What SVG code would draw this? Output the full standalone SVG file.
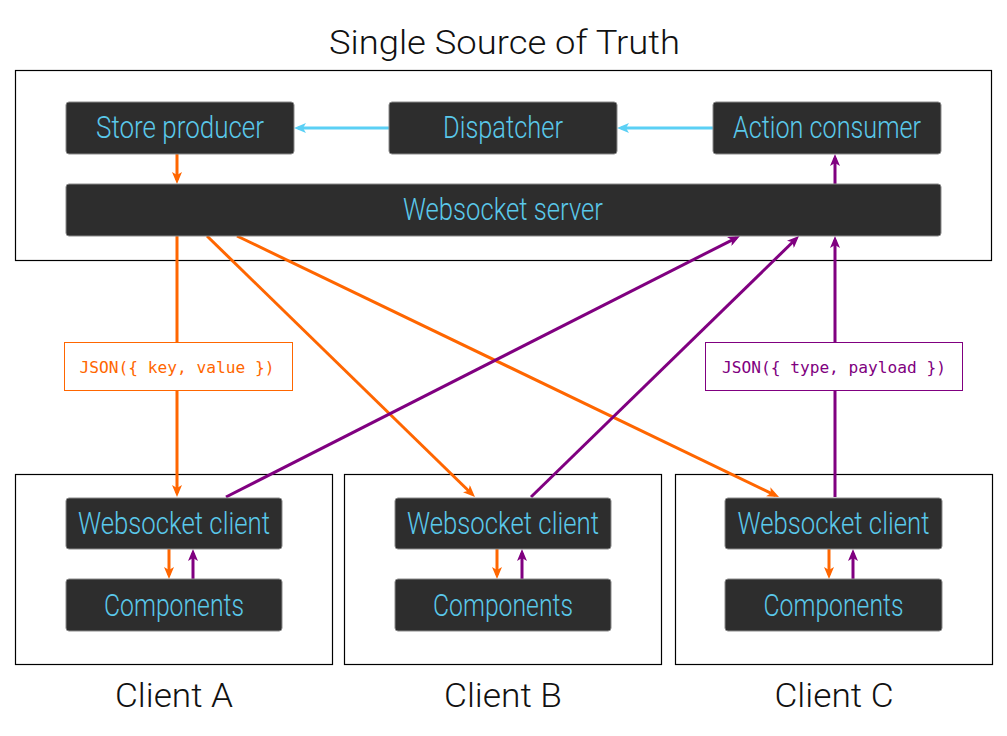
<svg xmlns="http://www.w3.org/2000/svg" width="1007" height="736" viewBox="0 0 1007 736">
<style>
.frame{fill:#fff;stroke:#000;stroke-width:1.2}
.node rect{fill:#2d2d2d;stroke:#8a8a8a;stroke-width:1}
.node text{font-family:Roboto,"Liberation Sans",sans-serif;font-weight:300;font-size:31px;fill:#5ac8ea;text-anchor:middle}
.title{font-family:Roboto,"Liberation Sans",sans-serif;font-weight:300;font-size:34px;fill:#111;text-anchor:middle}
.blue{stroke:#5bd0f5;stroke-width:3;fill:none}
.orange{stroke:#ff6600;stroke-width:3;fill:none}
.purple{stroke:#800080;stroke-width:3;fill:none}
.mono{font-family:"DejaVu Sans Mono","Liberation Mono",monospace;font-size:16.2px;text-anchor:middle}
</style>
<defs>
<marker id="ab" viewBox="0 0 12 10" refX="8" refY="5" markerWidth="12" markerHeight="10" markerUnits="userSpaceOnUse" orient="auto"><path d="M0,0 L12,5 L0,10 L3,5 Z" fill="#5bd0f5"/></marker>
<marker id="ao" viewBox="0 0 12 10" refX="8" refY="5" markerWidth="12" markerHeight="10" markerUnits="userSpaceOnUse" orient="auto"><path d="M0,0 L12,5 L0,10 L3,5 Z" fill="#ff6600"/></marker>
<marker id="ap" viewBox="0 0 12 10" refX="8" refY="5" markerWidth="12" markerHeight="10" markerUnits="userSpaceOnUse" orient="auto"><path d="M0,0 L12,5 L0,10 L3,5 Z" fill="#800080"/></marker>
</defs>
<rect width="1007" height="736" fill="#fff"/>

<g id="titles">
<text class="title" x="504.5" y="54" textLength="351" lengthAdjust="spacingAndGlyphs">Single Source of Truth</text>
<text class="title" x="174" y="707" textLength="118" lengthAdjust="spacingAndGlyphs">Client A</text>
<text class="title" x="503" y="707" textLength="118" lengthAdjust="spacingAndGlyphs">Client B</text>
<text class="title" x="834" y="707" textLength="119" lengthAdjust="spacingAndGlyphs">Client C</text>
</g>

<g id="frames">
<rect class="frame" x="15.5" y="70.5" width="976" height="190"/>
<rect class="frame" x="15.5" y="474.5" width="317" height="190"/>
<rect class="frame" x="344.5" y="474.5" width="317" height="190"/>
<rect class="frame" x="675.5" y="474.5" width="317" height="190"/>
</g>

<g id="connectors">
<line class="blue" x1="389" y1="128" x2="298" y2="128" marker-end="url(#ab)"/>
<line class="blue" x1="713" y1="128" x2="621" y2="128" marker-end="url(#ab)"/>
<line class="orange" x1="177" y1="154" x2="177" y2="180" marker-end="url(#ao)"/>
<line class="purple" x1="835" y1="184" x2="835" y2="158" marker-end="url(#ap)"/>

<line class="orange" x1="177" y1="236" x2="177" y2="493" marker-end="url(#ao)"/>
<line class="orange" x1="207" y1="236" x2="472.1" y2="494.2" marker-end="url(#ao)"/>
<line class="orange" x1="237" y1="236" x2="775.4" y2="495.3" marker-end="url(#ao)"/>
<line class="purple" x1="226" y1="497" x2="736.4" y2="237.8" marker-end="url(#ap)"/>
<line class="purple" x1="531" y1="497" x2="796.1" y2="238.8" marker-end="url(#ap)"/>
<line class="purple" x1="835" y1="497" x2="835" y2="240" marker-end="url(#ap)"/>

<line class="orange" x1="169" y1="549" x2="169" y2="575" marker-end="url(#ao)"/>
<line class="purple" x1="193" y1="579" x2="193" y2="553" marker-end="url(#ap)"/>
<line class="orange" x1="497" y1="549" x2="497" y2="575" marker-end="url(#ao)"/>
<line class="purple" x1="522" y1="579" x2="522" y2="553" marker-end="url(#ap)"/>
<line class="orange" x1="829" y1="549" x2="829" y2="575" marker-end="url(#ao)"/>
<line class="purple" x1="853" y1="579" x2="853" y2="553" marker-end="url(#ap)"/>

<g id="label-key">
<rect x="64.5" y="342.5" width="228" height="48" fill="#fff" stroke="#ff6600" stroke-width="1"/>
<text class="mono" x="177" y="373" fill="#ff6600">JSON({ key, value })</text>
</g>
<g id="label-type">
<rect x="705.5" y="342.5" width="257" height="48" fill="#fff" stroke="#800080" stroke-width="1"/>
<text class="mono" x="834" y="373" fill="#800080">JSON({ type, payload })</text>
</g>
</g>

<g id="store-producer" class="node"><rect x="66" y="102" width="228" height="52" rx="3"/><text x="180" y="137.5" textLength="168" lengthAdjust="spacingAndGlyphs">Store producer</text></g>
<g id="dispatcher" class="node"><rect x="389" y="102" width="228" height="52" rx="3"/><text x="503" y="137.5" textLength="120" lengthAdjust="spacingAndGlyphs">Dispatcher</text></g>
<g id="action-consumer" class="node"><rect x="713" y="102" width="228" height="52" rx="3"/><text x="827" y="137.5" textLength="188" lengthAdjust="spacingAndGlyphs">Action consumer</text></g>
<g id="websocket-server" class="node"><rect x="66" y="184" width="875" height="52" rx="3"/><text x="503" y="220" textLength="200" lengthAdjust="spacingAndGlyphs">Websocket server</text></g>

<g id="ws-client-a" class="node"><rect x="66" y="498" width="216" height="51" rx="3"/><text x="174" y="533.5" textLength="192" lengthAdjust="spacingAndGlyphs">Websocket client</text></g>
<g id="components-a" class="node"><rect x="66" y="579" width="216" height="52" rx="3"/><text x="174" y="616" textLength="140" lengthAdjust="spacingAndGlyphs">Components</text></g>
<g id="ws-client-b" class="node"><rect x="395" y="498" width="216" height="51" rx="3"/><text x="503" y="533.5" textLength="192" lengthAdjust="spacingAndGlyphs">Websocket client</text></g>
<g id="components-b" class="node"><rect x="395" y="579" width="216" height="52" rx="3"/><text x="503" y="616" textLength="140" lengthAdjust="spacingAndGlyphs">Components</text></g>
<g id="ws-client-c" class="node"><rect x="725" y="498" width="217" height="51" rx="3"/><text x="833.5" y="533.5" textLength="192" lengthAdjust="spacingAndGlyphs">Websocket client</text></g>
<g id="components-c" class="node"><rect x="725" y="579" width="217" height="52" rx="3"/><text x="833.5" y="616" textLength="140" lengthAdjust="spacingAndGlyphs">Components</text></g>
</svg>
